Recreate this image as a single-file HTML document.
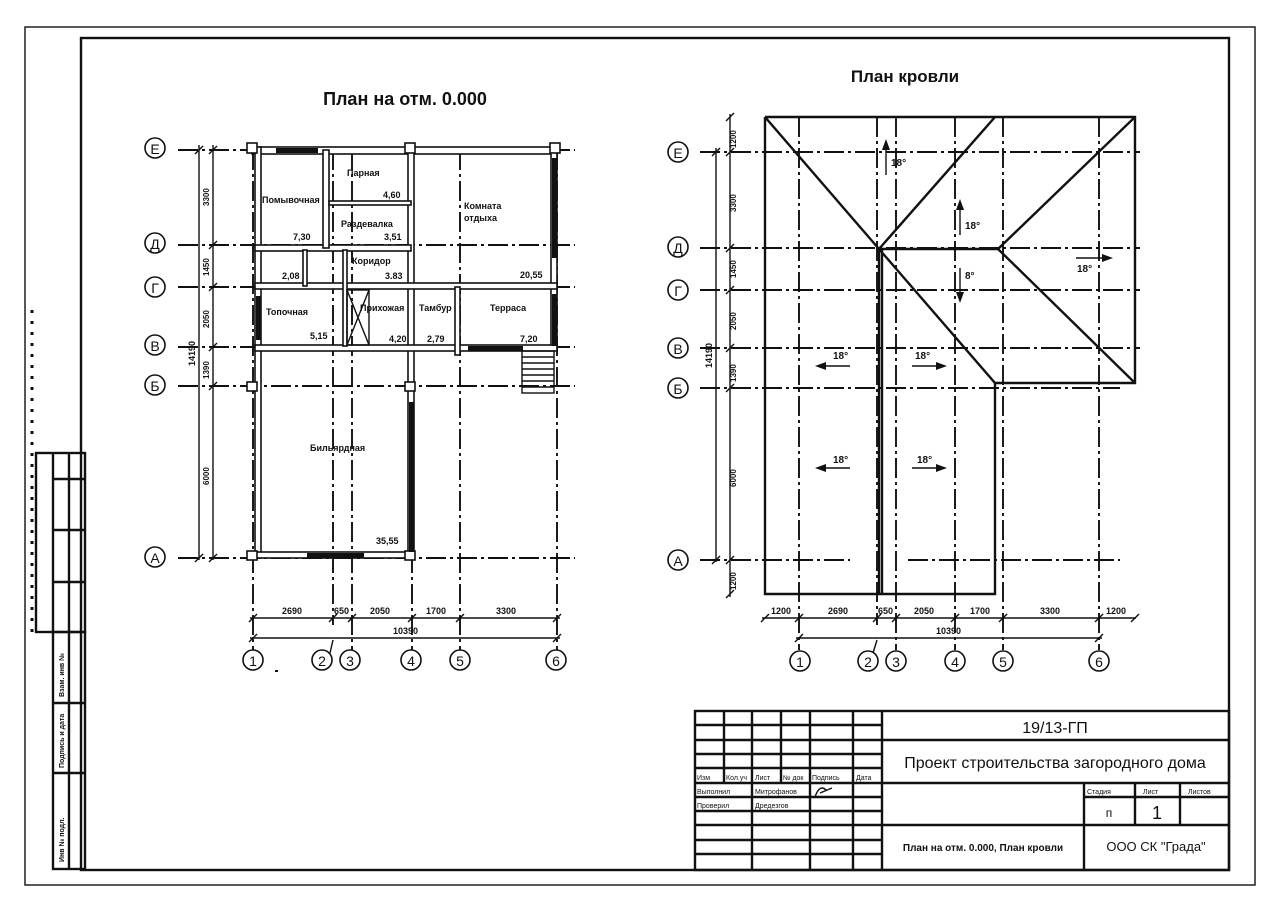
<!DOCTYPE html>
<html><head><meta charset="utf-8"><style>
html,body{margin:0;padding:0;background:#fff;width:1280px;height:900px;overflow:hidden}
svg{display:block}
text{font-family:"Liberation Sans","DejaVu Sans",sans-serif;fill:#111}
.ax{stroke:#111;stroke-width:1.9;stroke-dasharray:20 4 3 4;fill:none}
.l{stroke:#111;stroke-width:1.4;fill:none}
.t{stroke:#111;stroke-width:2.4;fill:none}
.w{stroke:#111;stroke-width:1.6;fill:#fff}
.b{fill:#111}
.c{stroke:#111;stroke-width:1.6;fill:#fff}
.s{font-size:9px;font-weight:bold}
.r{font-size:9px;font-weight:bold}
</style></head><body>
<svg width="1280" height="900" viewBox="0 0 1280 900" xmlns="http://www.w3.org/2000/svg">
<rect x="25" y="27" width="1230" height="858" class="l" stroke-width="1"/>
<rect x="81" y="38" width="1148" height="832" class="t"/>
<line x1="32" y1="310" x2="32" y2="632" stroke="#111" stroke-width="3" stroke-dasharray="3 8"/>
<rect x="36" y="453" width="49" height="179" class="t" stroke-width="1.8"/>
<line x1="53" y1="453" x2="53" y2="632" class="t" stroke-width="1.6"/>
<line x1="69" y1="453" x2="69" y2="632" class="t" stroke-width="1.6"/>
<line x1="53" y1="479" x2="85" y2="479" class="t" stroke-width="1.6"/>
<line x1="53" y1="530" x2="85" y2="530" class="t" stroke-width="1.6"/>
<line x1="53" y1="582" x2="85" y2="582" class="t" stroke-width="1.6"/>
<rect x="53" y="632" width="32" height="237" class="t" stroke-width="1.8"/>
<line x1="69" y1="632" x2="69" y2="869" class="t" stroke-width="1.6"/>
<line x1="53" y1="703" x2="85" y2="703" class="t" stroke-width="1.6"/>
<line x1="53" y1="773" x2="85" y2="773" class="t" stroke-width="1.6"/>
<text transform="translate(64,697) rotate(-90)" style="font-size:7px;font-weight:bold">Взам. инв №</text>
<text transform="translate(64,768) rotate(-90)" style="font-size:7px;font-weight:bold">Подпись и дата</text>
<text transform="translate(64,862) rotate(-90)" style="font-size:7px;font-weight:bold">Инв № подл.</text>

<text x="405" y="105" text-anchor="middle" style="font-size:18px;font-weight:bold">План на отм. 0.000</text>
<text x="905" y="82" text-anchor="middle" style="font-size:17px;font-weight:bold">План кровли</text>

<g>
<line x1="178" y1="150" x2="575" y2="150" class="ax"/>
<line x1="178" y1="245" x2="575" y2="245" class="ax"/>
<line x1="178" y1="287" x2="575" y2="287" class="ax"/>
<line x1="178" y1="347" x2="575" y2="347" class="ax"/>
<line x1="178" y1="386" x2="575" y2="386" class="ax"/>
<line x1="178" y1="558" x2="575" y2="558" class="ax"/>
<line x1="253" y1="150" x2="253" y2="650" class="ax"/>
<line x1="333" y1="150" x2="333" y2="625" class="ax"/>
<line x1="352" y1="150" x2="352" y2="650" class="ax"/>
<line x1="412" y1="150" x2="412" y2="650" class="ax"/>
<line x1="460" y1="150" x2="460" y2="650" class="ax"/>
<line x1="557" y1="150" x2="557" y2="650" class="ax"/>
<g class="w">
<rect x="252" y="147" width="305" height="7"/>
<rect x="255" y="147" width="6" height="411"/>
<rect x="255" y="552" width="159" height="6"/>
<rect x="408" y="147" width="6" height="411"/>
<rect x="551" y="147" width="6" height="202"/>
<rect x="255" y="245" width="156" height="6"/>
<rect x="255" y="283" width="302" height="6"/>
<rect x="255" y="345" width="302" height="6"/>
<rect x="323" y="150" width="6" height="98"/>
<rect x="329" y="201" width="82" height="4"/>
<rect x="303" y="250" width="4" height="36"/>
<rect x="343" y="250" width="4" height="96"/>
<rect x="455" y="287" width="5" height="68"/>
<rect x="247" y="143" width="10" height="10"/>
<rect x="405" y="143" width="10" height="10"/>
<rect x="550" y="143" width="10" height="10"/>
<rect x="247" y="382" width="10" height="9"/>
<rect x="405" y="382" width="10" height="9"/>
<rect x="247" y="551" width="10" height="9"/>
<rect x="405" y="551" width="10" height="9"/>
</g>
<rect x="276" y="148" width="42" height="5" class="b"/>
<rect x="256" y="296" width="5" height="44" class="b"/>
<rect x="552" y="158" width="5" height="100" class="b"/>
<rect x="552" y="294" width="5" height="52" class="b"/>
<rect x="468" y="346" width="55" height="5" class="b"/>
<rect x="409" y="402" width="5" height="150" class="b"/>
<rect x="307" y="553" width="57" height="5" class="b"/>
<rect x="347" y="290" width="22" height="55" class="l"/>
<line x1="347" y1="290" x2="369" y2="345" class="l"/>
<line x1="369" y1="290" x2="347" y2="345" class="l"/>
<rect x="522" y="351" width="32" height="42" class="l"/>
<g class="l"><line x1="522" y1="357" x2="554" y2="357"/><line x1="522" y1="363" x2="554" y2="363"/><line x1="522" y1="369" x2="554" y2="369"/><line x1="522" y1="375" x2="554" y2="375"/><line x1="522" y1="381" x2="554" y2="381"/><line x1="522" y1="387" x2="554" y2="387"/></g>
<text x="347" y="176" class="s">Парная</text>
<text x="383" y="198" class="s">4,60</text>
<text x="262" y="203" class="s">Помывочная</text>
<text x="293" y="240" class="s">7,30</text>
<text x="341" y="227" class="s">Раздевалка</text>
<text x="384" y="240" class="s">3,51</text>
<text x="464" y="209" class="s">Комната</text>
<text x="464" y="221" class="s">отдыха</text>
<text x="520" y="278" class="s">20,55</text>
<text x="352" y="264" class="s">Коридор</text>
<text x="385" y="279" class="s">3.83</text>
<text x="282" y="279" class="s">2,08</text>
<text x="266" y="315" class="s">Топочная</text>
<text x="310" y="339" class="s">5,15</text>
<text x="360" y="311" class="s">Прихожая</text>
<text x="389" y="342" class="s">4,20</text>
<text x="419" y="311" class="s">Тамбур</text>
<text x="427" y="342" class="s">2,79</text>
<text x="490" y="311" class="s">Терраса</text>
<text x="520" y="342" class="s">7,20</text>
<text x="310" y="451" class="s">Бильярдная</text>
<text x="376" y="544" class="s">35,55</text>
<line x1="199" y1="145" x2="199" y2="560" class="l"/>
<line x1="213" y1="145" x2="213" y2="560" class="l"/>
<g class="l" stroke-width="2"><line x1="209" y1="154" x2="217" y2="146"/><line x1="209" y1="249" x2="217" y2="241"/><line x1="209" y1="291" x2="217" y2="283"/><line x1="209" y1="351" x2="217" y2="343"/><line x1="209" y1="390" x2="217" y2="382"/><line x1="209" y1="562" x2="217" y2="554"/><line x1="195" y1="154" x2="203" y2="146"/><line x1="195" y1="562" x2="203" y2="554"/></g>
<text transform="translate(209,206) rotate(-90)" style="font-size:8px;font-weight:bold">3300</text>
<text transform="translate(209,276) rotate(-90)" style="font-size:8px;font-weight:bold">1450</text>
<text transform="translate(209,328) rotate(-90)" style="font-size:8px;font-weight:bold">2050</text>
<text transform="translate(209,379) rotate(-90)" style="font-size:8px;font-weight:bold">1390</text>
<text transform="translate(209,485) rotate(-90)" style="font-size:8px;font-weight:bold">6000</text>
<text transform="translate(195,366) rotate(-90)" style="font-size:9px;font-weight:bold">14190</text>
<line x1="250" y1="618" x2="560" y2="618" class="l"/>
<line x1="250" y1="638" x2="560" y2="638" class="l"/>
<g class="l" stroke-width="2"><line x1="249" y1="622" x2="257" y2="614"/><line x1="329" y1="622" x2="337" y2="614"/><line x1="348" y1="622" x2="356" y2="614"/><line x1="408" y1="622" x2="416" y2="614"/><line x1="456" y1="622" x2="464" y2="614"/><line x1="553" y1="622" x2="561" y2="614"/><line x1="249" y1="642" x2="257" y2="634"/><line x1="553" y1="642" x2="561" y2="634"/></g>
<text x="282" y="614" class="r">2690</text>
<text x="334" y="614" class="r">650</text>
<text x="370" y="614" class="r">2050</text>
<text x="426" y="614" class="r">1700</text>
<text x="496" y="614" class="r">3300</text>
<text x="393" y="634" class="r">10390</text>
<g class="c"><circle cx="253" cy="660" r="10"/><circle cx="322" cy="660" r="10"/><circle cx="350" cy="660" r="10"/><circle cx="411" cy="660" r="10"/><circle cx="460" cy="660" r="10"/><circle cx="556" cy="660" r="10"/>
<circle cx="155" cy="148" r="10"/><circle cx="155" cy="243" r="10"/><circle cx="155" cy="287" r="10"/><circle cx="155" cy="345" r="10"/><circle cx="155" cy="385" r="10"/><circle cx="155" cy="557" r="10"/></g>
<line x1="330" y1="653" x2="333" y2="640" class="l"/>
<g style="font-size:14px" text-anchor="middle"><text x="253" y="666">1</text><text x="322" y="666">2</text><text x="350" y="666">3</text><text x="411" y="666">4</text><text x="460" y="666">5</text><text x="556" y="666">6</text>
<text x="155" y="154">Е</text><text x="155" y="249">Д</text><text x="155" y="293">Г</text><text x="155" y="351">В</text><text x="155" y="391">Б</text><text x="155" y="563">А</text></g>
<rect x="275" y="670" width="3" height="2" class="b"/>
</g>

<g>
<line x1="700" y1="152" x2="1140" y2="152" class="ax"/>
<line x1="700" y1="248" x2="1140" y2="248" class="ax"/>
<line x1="700" y1="290" x2="1140" y2="290" class="ax"/>
<line x1="700" y1="348" x2="1140" y2="348" class="ax"/>
<line x1="700" y1="388" x2="1120" y2="388" class="ax"/>
<line x1="700" y1="560" x2="850" y2="560" class="ax"/>
<line x1="908" y1="560" x2="1120" y2="560" class="ax"/>
<line x1="799" y1="117" x2="799" y2="650" class="ax"/>
<line x1="877" y1="117" x2="877" y2="625" class="ax"/>
<line x1="896" y1="117" x2="896" y2="650" class="ax"/>
<line x1="955" y1="117" x2="955" y2="650" class="ax"/>
<line x1="1003" y1="117" x2="1003" y2="650" class="ax"/>
<line x1="1099" y1="117" x2="1099" y2="650" class="ax"/>
<g class="t" stroke-width="2">
<polyline points="765,117 1135,117 1135,383 995,383 995,594 765,594 765,117"/>
<line x1="765" y1="117" x2="879" y2="249"/>
<line x1="879" y1="249" x2="995" y2="117"/>
<line x1="879" y1="249" x2="998" y2="249"/>
<line x1="998" y1="249" x2="1135" y2="117"/>
<line x1="998" y1="249" x2="1135" y2="383"/>
<line x1="879" y1="249" x2="995" y2="383"/>
<line x1="879" y1="249" x2="879" y2="594"/>
<line x1="882" y1="249" x2="882" y2="594"/>
</g>
<g class="l" stroke-width="2">
<line x1="886" y1="175" x2="886" y2="146"/>
<line x1="960" y1="235" x2="960" y2="206"/>
<line x1="960" y1="268" x2="960" y2="296"/>
<line x1="1076" y1="258" x2="1104" y2="258"/>
<line x1="850" y1="366" x2="822" y2="366"/>
<line x1="912" y1="366" x2="940" y2="366"/>
<line x1="850" y1="468" x2="822" y2="468"/>
<line x1="912" y1="468" x2="940" y2="468"/>
</g>
<g class="b">
<polygon points="882,150 886,139 890,150"/>
<polygon points="956,210 960,199 964,210"/>
<polygon points="956,292 960,303 964,292"/>
<polygon points="1102,254 1113,258 1102,262"/>
<polygon points="826,362 815,366 826,370"/>
<polygon points="936,362 947,366 936,370"/>
<polygon points="826,464 815,468 826,472"/>
<polygon points="936,464 947,468 936,472"/>
</g>
<g style="font-size:10px;font-weight:bold">
<text x="891" y="166">18°</text><text x="965" y="229">18°</text><text x="965" y="279">8°</text><text x="1077" y="272">18°</text>
<text x="833" y="359">18°</text><text x="915" y="359">18°</text><text x="833" y="463">18°</text><text x="917" y="463">18°</text></g>
<line x1="716" y1="148" x2="716" y2="562" class="l"/>
<line x1="730" y1="114" x2="730" y2="597" class="l"/>
<g class="l" stroke-width="2"><line x1="726" y1="121" x2="734" y2="113"/><line x1="726" y1="156" x2="734" y2="148"/><line x1="726" y1="252" x2="734" y2="244"/><line x1="726" y1="294" x2="734" y2="286"/><line x1="726" y1="352" x2="734" y2="344"/><line x1="726" y1="392" x2="734" y2="384"/><line x1="726" y1="564" x2="734" y2="556"/><line x1="726" y1="598" x2="734" y2="590"/><line x1="712" y1="156" x2="720" y2="148"/><line x1="712" y1="564" x2="720" y2="556"/></g>
<text transform="translate(736,148) rotate(-90)" style="font-size:8px;font-weight:bold">1200</text>
<text transform="translate(736,212) rotate(-90)" style="font-size:8px;font-weight:bold">3300</text>
<text transform="translate(736,278) rotate(-90)" style="font-size:8px;font-weight:bold">1450</text>
<text transform="translate(736,330) rotate(-90)" style="font-size:8px;font-weight:bold">2050</text>
<text transform="translate(736,382) rotate(-90)" style="font-size:8px;font-weight:bold">1390</text>
<text transform="translate(736,487) rotate(-90)" style="font-size:8px;font-weight:bold">6000</text>
<text transform="translate(736,590) rotate(-90)" style="font-size:8px;font-weight:bold">1200</text>
<text transform="translate(712,368) rotate(-90)" style="font-size:9px;font-weight:bold">14190</text>
<line x1="762" y1="618" x2="1136" y2="618" class="l"/>
<line x1="796" y1="638" x2="1102" y2="638" class="l"/>
<g class="l" stroke-width="2"><line x1="761" y1="622" x2="769" y2="614"/><line x1="795" y1="622" x2="803" y2="614"/><line x1="873" y1="622" x2="881" y2="614"/><line x1="892" y1="622" x2="900" y2="614"/><line x1="951" y1="622" x2="959" y2="614"/><line x1="999" y1="622" x2="1007" y2="614"/><line x1="1095" y1="622" x2="1103" y2="614"/><line x1="1131" y1="622" x2="1139" y2="614"/><line x1="795" y1="642" x2="803" y2="634"/><line x1="1095" y1="642" x2="1103" y2="634"/></g>
<text x="771" y="614" class="r">1200</text>
<text x="828" y="614" class="r">2690</text>
<text x="878" y="614" class="r">650</text>
<text x="914" y="614" class="r">2050</text>
<text x="970" y="614" class="r">1700</text>
<text x="1040" y="614" class="r">3300</text>
<text x="1106" y="614" class="r">1200</text>
<text x="936" y="634" class="r">10390</text>
<g class="c"><circle cx="800" cy="661" r="10"/><circle cx="868" cy="661" r="10"/><circle cx="896" cy="661" r="10"/><circle cx="955" cy="661" r="10"/><circle cx="1003" cy="661" r="10"/><circle cx="1099" cy="661" r="10"/>
<circle cx="678" cy="152" r="10"/><circle cx="678" cy="247" r="10"/><circle cx="678" cy="290" r="10"/><circle cx="678" cy="348" r="10"/><circle cx="678" cy="388" r="10"/><circle cx="678" cy="560" r="10"/></g>
<line x1="873" y1="653" x2="877" y2="640" class="l"/>
<g style="font-size:14px" text-anchor="middle"><text x="800" y="667">1</text><text x="868" y="667">2</text><text x="896" y="667">3</text><text x="955" y="667">4</text><text x="1003" y="667">5</text><text x="1099" y="667">6</text>
<text x="678" y="158">Е</text><text x="678" y="253">Д</text><text x="678" y="296">Г</text><text x="678" y="354">В</text><text x="678" y="394">Б</text><text x="678" y="566">А</text></g>
</g>

<g class="t" stroke-width="1.8">
<rect x="695" y="711" width="534" height="159"/>
<line x1="882" y1="711" x2="882" y2="870"/>
<line x1="724" y1="711" x2="724" y2="783"/>
<line x1="752" y1="711" x2="752" y2="783"/>
<line x1="781" y1="711" x2="781" y2="783"/>
<line x1="810" y1="711" x2="810" y2="870"/>
<line x1="853" y1="711" x2="853" y2="870"/>
<line x1="752" y1="783" x2="752" y2="870"/>
<line x1="695" y1="725" x2="882" y2="725"/>
<line x1="695" y1="740" x2="1229" y2="740"/>
<line x1="695" y1="754" x2="882" y2="754"/>
<line x1="695" y1="768" x2="882" y2="768"/>
<line x1="695" y1="783" x2="1229" y2="783"/>
<line x1="695" y1="797" x2="882" y2="797"/>
<line x1="695" y1="811" x2="882" y2="811"/>
<line x1="695" y1="825" x2="1229" y2="825"/>
<line x1="695" y1="840" x2="882" y2="840"/>
<line x1="695" y1="854" x2="882" y2="854"/>
<line x1="1084" y1="783" x2="1084" y2="870"/>
<line x1="1135" y1="783" x2="1135" y2="825"/>
<line x1="1180" y1="783" x2="1180" y2="825"/>
<line x1="1084" y1="797" x2="1229" y2="797"/>
</g>
<g style="font-size:7px">
<text x="697" y="780">Изм</text><text x="726" y="780">Кол.уч</text><text x="755" y="780">Лист</text><text x="783" y="780">№ док</text><text x="812" y="780">Подпись</text><text x="856" y="780">Дата</text>
<text x="697" y="794">Выполнил</text><text x="755" y="794">Митрофанов</text>
<text x="697" y="808">Проверил</text><text x="755" y="808">Дредезгов</text>
<text x="1087" y="794">Стадия</text><text x="1143" y="794">Лист</text><text x="1188" y="794">Листов</text>
</g>
<path d="M815,797 C818,788 822,786 826,790 M820,793 L832,788" class="l" stroke-width="1"/>
<text x="1055" y="733" text-anchor="middle" style="font-size:16px">19/13-ГП</text>
<text x="1055" y="768" text-anchor="middle" style="font-size:16px">Проект строительства загородного дома</text>
<text x="1109" y="817" text-anchor="middle" style="font-size:12px">п</text>
<text x="1157" y="819" text-anchor="middle" style="font-size:18px">1</text>
<text x="983" y="851" text-anchor="middle" style="font-size:10px;font-weight:bold">План на отм. 0.000, План кровли</text>
<text x="1156" y="851" text-anchor="middle" style="font-size:13px">ООО СК "Града"</text>
</svg>
</body></html>
